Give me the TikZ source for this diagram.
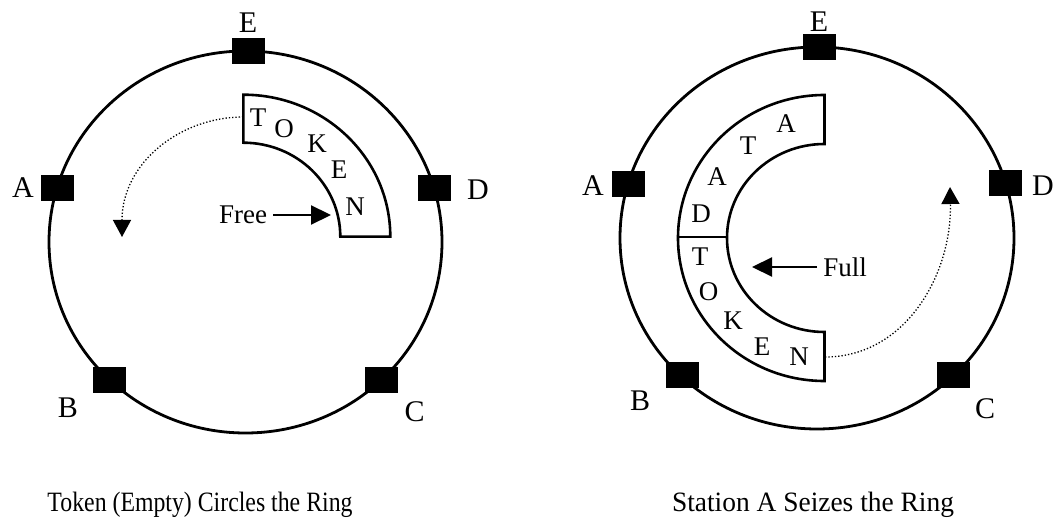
\documentclass[tikz,border=0pt]{standalone}
\usepackage{fontspec}
\setmainfont{Liberation Serif}
\usepackage{tikz}
\usetikzlibrary{
  positioning,
  arrows.meta
}

\begin{document}
\begin{tikzpicture}[
  x=1pt, y=1pt,
  ring/.style={
    line width=2.8pt
  },
  station/.style={
    fill=black,
    minimum width=33pt,
    minimum height=26pt,
    inner sep=0pt
  },
  stlabel/.style={
    font=\fontsize{30}{34}\selectfont,
    inner sep=0pt
  },
  tokenbox/.style={
    line width=2.6pt,
    fill=white
  },
  letter/.style={
    font=\fontsize{27}{30}\selectfont,
    inner sep=0pt
  },
  pointer/.style={
    line width=2.2pt,
    -{Triangle[length=20pt,width=19pt]}
  },
  hop/.style={
    line width=1.3pt,
    dash pattern=on 1.3pt off 2pt,
    -{Triangle[length=17pt,width=18pt]}
  },
  caption/.style={
    font=\fontsize{28}{32}\selectfont
  }
]
\useasboundingbox (0,0) rectangle (1059,525);

% Left ring: free token
\coordinate (lring) at (245.5,283);
\draw[ring] (lring) ellipse [x radius=196.5, y radius=191];

\node[station] (lE) at (248,473.5) {};
\node[station] (lA) at (57,337) {};
\node[station] (lD) at (434.5,337) {};
\node[station] (lB) at (109,145) {};
\node[station] (lC) at (381,145) {};

\node[stlabel] (lElab) at (248,502) {E};
\node[stlabel] (lAlab) at (23,337) {A};
\node[stlabel] (lDlab) at (478,335) {D};
\node[stlabel] (lBlab) at (68,117) {B};
\node[stlabel] (lClab) at (414.5,113) {C};

% Token band (quarter)
\coordinate (ltok) at (243.3,288.3);
\draw[tokenbox] (243.3,430.3) arc[start angle=90, end angle=0, x radius=147, y radius=142]
  -- (340.3,288.3) arc[start angle=0, end angle=90, x radius=97, y radius=94] -- cycle;

\node[letter] (lT) at (258,407) {T};
\node[letter] (lO) at (284,396) {O};
\node[letter] (lK) at (317,381) {K};
\node[letter] (lE2) at (339,355) {E};
\node[letter] (lN) at (355,318) {N};

\node[letter] (free) at (243,310) {Free};
\coordinate (freetip) at (331,310);
\draw[pointer] (free.east) ++(6,0) -- (freetip);

\coordinate (lhopstart) at (243.3,408);
\coordinate (lhopend) at (122,288);
\draw[hop] (lhopstart) .. controls (180,408) and (122,362) .. (lhopend);

% Right ring: station A seizes
\coordinate (rring) at (817,287);
\draw[ring] (rring) ellipse [x radius=197, y radius=191];

\node[station] (rE) at (819,478) {};
\node[station] (rA) at (628,341) {};
\node[station] (rD) at (1005,341.5) {};
\node[station] (rB) at (682,150) {};
\node[station] (rC) at (953,150) {};

\node[stlabel] (rElab) at (819,503) {E};
\node[stlabel] (rAlab) at (593,339) {A};
\node[stlabel] (rDlab) at (1043,339) {D};
\node[stlabel] (rBlab) at (640,124) {B};
\node[stlabel] (rClab) at (985,116) {C};

% Token band (half) with data
\coordinate (rtok) at (824.5,287);
\draw[tokenbox] (824.5,430) arc[start angle=90, end angle=270, x radius=146.5, y radius=143]
  -- (824.5,193) arc[start angle=270, end angle=90, x radius=97.5, y radius=94] -- cycle;
\draw[line width=2pt] (678,288) -- (727,288);

\node[letter] (rD1) at (701,311) {D};
\node[letter] (rA1) at (717,348) {A};
\node[letter] (rT1) at (748,379) {T};
\node[letter] (rA2) at (786,401) {A};

\node[letter] (rT) at (700,268) {T};
\node[letter] (rO) at (708.5,233) {O};
\node[letter] (rK) at (733,204) {K};
\node[letter] (rE2) at (762,178) {E};
\node[letter] (rN) at (799,168) {N};

\node[letter] (full) at (845,258) {Full};
\coordinate (fulltip) at (752,258);
\draw[pointer] (full.west) ++(-6,0) -- (fulltip);

\coordinate (rhopstart) at (825,168);
\coordinate (rhopend) at (950,338);
\draw[hop] (rhopstart) .. controls (905,168) and (952,250) .. (rhopend);

% Captions
\node[caption] (lcap) at (200,20) {\scalebox{0.85}[1]{Token (Empty) Circles the Ring}};
\node[caption] (rcap) at (813,20) {\scalebox{0.98}[1]{Station A Seizes the Ring}};

\end{tikzpicture}
\end{document}
